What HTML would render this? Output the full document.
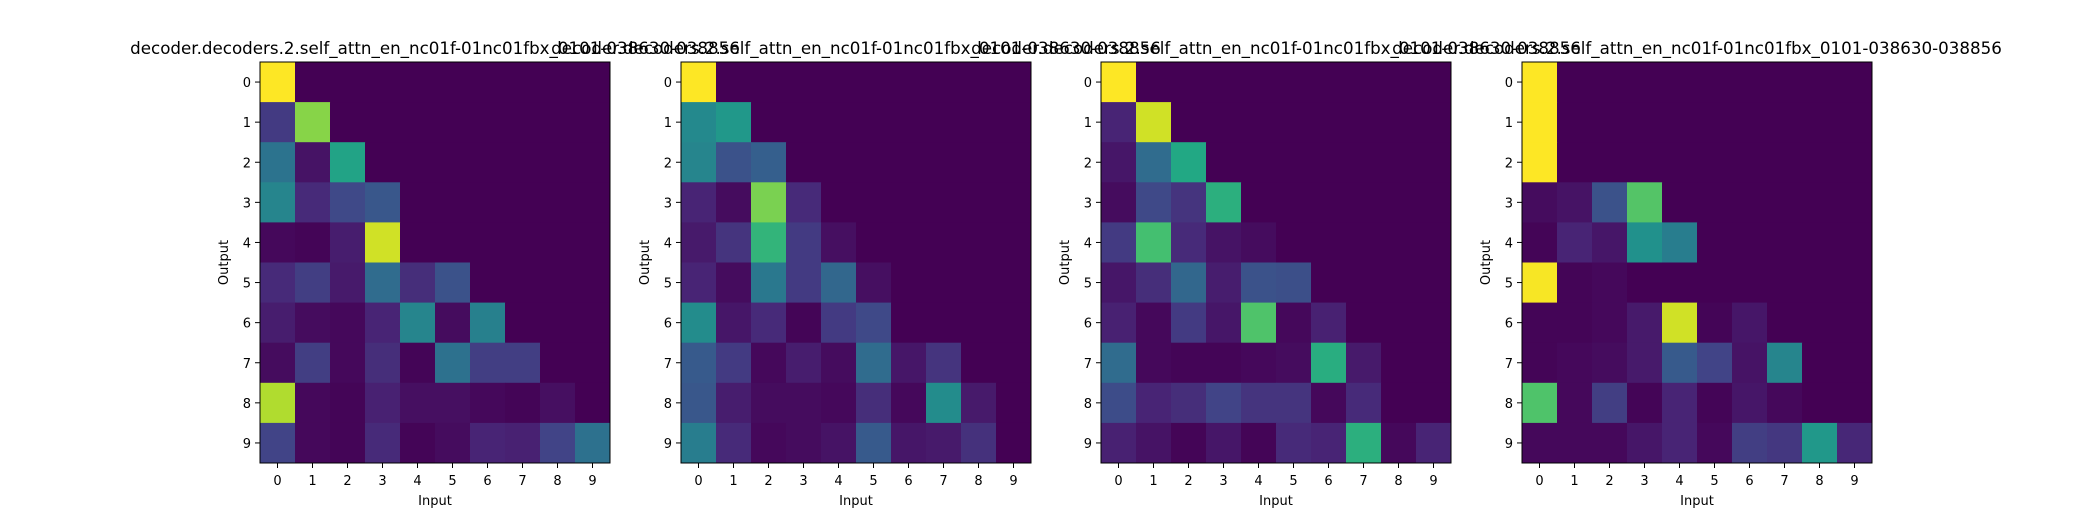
<!DOCTYPE html>
<html><head><meta charset="utf-8"><style>
html,body{margin:0;padding:0;background:#fff;}
svg{display:block;font-family:"DejaVu Sans","Liberation Sans",sans-serif;}
</style></head><body>
<svg id="fig" width="2080" height="520" viewBox="0 0 2080 520" xmlns="http://www.w3.org/2000/svg"></svg>
<script>
const xCategories = ["0","1","2","3","4","5","6","7","8","9"];
const yCategories = ["0","1","2","3","4","5","6","7","8","9"];
const titleText = "decoder.decoders.2.self_attn_en_nc01f-01nc01fbx_0101-038630-038856";
const panel1 = [
[1,0,0,0,0,0,0,0,0,0],
[0.17,0.82,0,0,0,0,0,0,0,0],
[0.38,0.05,0.58,0,0,0,0,0,0,0],
[0.45,0.12,0.22,0.27,0,0,0,0,0,0],
[0.02,0.01,0.08,0.93,0,0,0,0,0,0],
[0.12,0.18,0.07,0.35,0.13,0.25,0,0,0,0],
[0.08,0.03,0.02,0.1,0.45,0.03,0.43,0,0,0],
[0.03,0.18,0.02,0.13,0.01,0.37,0.18,0.18,0,0],
[0.88,0.02,0.01,0.09,0.04,0.04,0.02,0.01,0.04,0],
[0.2,0.02,0.01,0.12,0.01,0.03,0.1,0.09,0.2,0.37]];
const panel2 = [
[1,0,0,0,0,0,0,0,0,0],
[0.47,0.53,0,0,0,0,0,0,0,0],
[0.45,0.25,0.3,0,0,0,0,0,0,0],
[0.1,0.03,0.8,0.12,0,0,0,0,0,0],
[0.07,0.15,0.65,0.17,0.04,0,0,0,0,0],
[0.1,0.03,0.4,0.17,0.33,0.04,0,0,0,0],
[0.48,0.06,0.12,0.01,0.17,0.22,0,0,0,0],
[0.28,0.17,0.02,0.08,0.03,0.35,0.06,0.15,0,0],
[0.27,0.08,0.03,0.03,0.02,0.13,0.02,0.48,0.07,0],
[0.42,0.12,0.02,0.03,0.05,0.28,0.06,0.07,0.14,0]];
const panel3 = [
[1,0,0,0,0,0,0,0,0,0],
[0.1,0.93,0,0,0,0,0,0,0,0],
[0.06,0.35,0.6,0,0,0,0,0,0,0],
[0.03,0.22,0.15,0.63,0,0,0,0,0,0],
[0.17,0.7,0.12,0.05,0.03,0,0,0,0,0],
[0.06,0.13,0.33,0.08,0.25,0.24,0,0,0,0],
[0.09,0.02,0.17,0.06,0.72,0.02,0.09,0,0,0],
[0.35,0.02,0.01,0.01,0.02,0.03,0.62,0.07,0,0],
[0.23,0.1,0.13,0.2,0.15,0.15,0.02,0.12,0,0],
[0.09,0.05,0.01,0.06,0.01,0.12,0.1,0.63,0.02,0.1]];
const panel4 = [
[1,0,0,0,0,0,0,0,0,0],
[1,0,0,0,0,0,0,0,0,0],
[1,0,0,0,0,0,0,0,0,0],
[0.03,0.05,0.25,0.73,0,0,0,0,0,0],
[0.01,0.1,0.06,0.5,0.42,0,0,0,0,0],
[0.99,0.01,0.02,0,0,0,0,0,0,0],
[0.01,0.01,0.02,0.07,0.93,0.01,0.06,0,0,0],
[0.01,0.02,0.03,0.07,0.28,0.2,0.05,0.45,0,0],
[0.72,0.02,0.18,0.01,0.1,0.01,0.06,0.02,0,0],
[0.02,0.02,0.02,0.06,0.1,0.02,0.18,0.16,0.53,0.11]];

const panels = [panel1, panel2, panel3, panel4];
const frames = [{x:260,w:350},{x:681,w:350},{x:1101,w:350},{x:1522,w:350}];
const axTop = 62, axBottom = 463;
const stops = ["#440154","#482475","#414487","#355f8d","#2a788e","#21918c","#22a884","#44bf70","#7ad151","#bddf26","#fde725"];
function hex(c){return [parseInt(c.substr(1,2),16),parseInt(c.substr(3,2),16),parseInt(c.substr(5,2),16)];}
function viridis(v){v=Math.max(0,Math.min(1,v));const t=v*10;const i=Math.min(9,Math.floor(t));const f=t-i;const a=hex(stops[i]),b=hex(stops[i+1]);
 return "rgb("+a.map((x,k)=>Math.round(x+(b[k]-x)*f)).join(",")+")";}
const NS="http://www.w3.org/2000/svg";
const svg=document.getElementById('fig');
function mk(tag,attrs,parent){const e=document.createElementNS(NS,tag);for(const k in attrs)e.setAttribute(k,attrs[k]);(parent||svg).appendChild(e);return e;}

panels.forEach((data,p)=>{
 const fr=frames[p];
 const cw=fr.w/xCategories.length, ch=(axBottom-axTop)/yCategories.length;
 const xs=i=>fr.x+i*cw, ys=j=>axTop+j*ch;
 const g=mk('g',{});
 
 
 data.forEach((row,j)=>row.forEach((v,i)=>{
  const r=mk('rect',{x:xs(i),y:ys(j),width:cw+0.5,height:ch+0.5,fill:viridis(v)},g);
  
  
 }));
 const fb=mk('rect',{x:fr.x,y:axTop,width:fr.w,height:axBottom-axTop,fill:'none',stroke:'#000','stroke-width':1},g);
 
 
 xCategories.forEach((c,i)=>{
  const cx=xs(i)+cw/2;
  mk('line',{x1:cx,y1:axBottom,x2:cx,y2:axBottom+5,stroke:'#000','stroke-width':1},g);
  const t=mk('text',{x:cx,y:485,'font-size':13,'text-anchor':'middle',fill:'#000'},g);
  t.textContent=c;
  
  
 });
 yCategories.forEach((c,j)=>{
  const cy=ys(j)+ch/2;
  mk('line',{x1:fr.x-5,y1:cy,x2:fr.x,y2:cy,stroke:'#000','stroke-width':1},g);
  const t=mk('text',{x:fr.x-9,y:cy+5,'font-size':13,'text-anchor':'end',fill:'#000'},g);
  t.textContent=c;
  
  
 });
 const xl=mk('text',{x:fr.x+fr.w/2,y:505,'font-size':13,'text-anchor':'middle',fill:'#000'},g);
 xl.textContent='Input';
 
 
 const yx=fr.x-32, yy=(axTop+axBottom)/2;
 const yl=mk('text',{x:yx,y:yy,'font-size':13,'text-anchor':'middle',fill:'#000',transform:'rotate(-90 '+yx+' '+yy+')'},g);
 yl.textContent='Output';
 
 
 const tt=mk('text',{x:fr.x+fr.w/2,y:54,'font-size':16.7,'text-anchor':'middle',fill:'#000'},g);
 tt.textContent=titleText;
 
 
});
</script>
</body></html>
